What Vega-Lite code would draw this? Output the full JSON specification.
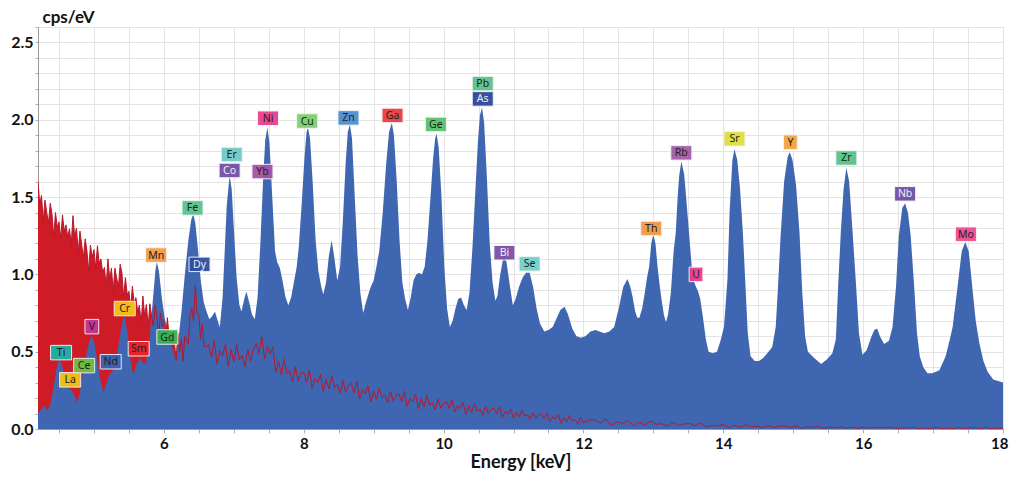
{
  "$schema": "https://vega.github.io/schema/vega-lite/v6.json",
  "width": 965,
  "height": 402,
  "autosize": {"type": "none"},
  "padding": {"left": 38, "top": 27, "right": 6, "bottom": 48},
  "background": "white",
  "config": {
    "view": {"stroke": "#a8a8a8", "strokeWidth": 1},
    "axis": {
      "labelFont": "Lato", "labelFontWeight": "bold", "labelFontSize": 16, "labelColor": "#111",
      "titleFont": "Lato", "titleFontWeight": "bold", "titleFontSize": 18, "titleColor": "#111",
      "gridColor": "#e4e4e4", "gridWidth": 1, "domainColor": "#9a9a9a", "tickColor": "#b0b0b0"
    }
  },
  "datasets": {
    "blue": [
      {"e":4.20,"c":0.10},{"e":4.25,"c":0.13},{"e":4.29,"c":0.155},{"e":4.33,"c":0.12},{"e":4.37,"c":0.15},{"e":4.42,"c":0.26},{"e":4.46,"c":0.38},{"e":4.50,"c":0.45},{"e":4.54,"c":0.42},{"e":4.58,"c":0.33},{"e":4.63,"c":0.27},{"e":4.68,"c":0.25},{"e":4.72,"c":0.22},{"e":4.76,"c":0.17},{"e":4.80,"c":0.24},{"e":4.85,"c":0.38},{"e":4.90,"c":0.50},{"e":4.94,"c":0.58},{"e":4.97,"c":0.60},{"e":5.01,"c":0.55},{"e":5.05,"c":0.43},{"e":5.10,"c":0.30},{"e":5.14,"c":0.24},{"e":5.18,"c":0.30},{"e":5.23,"c":0.36},{"e":5.28,"c":0.38},{"e":5.32,"c":0.45},{"e":5.37,"c":0.60},{"e":5.41,"c":0.70},{"e":5.44,"c":0.73},{"e":5.48,"c":0.62},{"e":5.52,"c":0.46},{"e":5.56,"c":0.35},{"e":5.61,"c":0.42},{"e":5.66,"c":0.46},{"e":5.70,"c":0.43},{"e":5.74,"c":0.42},{"e":5.79,"c":0.55},{"e":5.84,"c":0.82},{"e":5.88,"c":1.03},{"e":5.90,"c":1.08},{"e":5.93,"c":1.02},{"e":5.97,"c":0.85},{"e":6.01,"c":0.72},{"e":6.06,"c":0.62},{"e":6.10,"c":0.55},{"e":6.14,"c":0.50},{"e":6.16,"c":0.46},{"e":6.20,"c":0.55},{"e":6.25,"c":0.75},{"e":6.30,"c":1.00},{"e":6.35,"c":1.22},{"e":6.39,"c":1.35},{"e":6.42,"c":1.39},{"e":6.45,"c":1.33},{"e":6.49,"c":1.15},{"e":6.53,"c":0.95},{"e":6.57,"c":0.82},{"e":6.61,"c":0.76},{"e":6.65,"c":0.71},{"e":6.69,"c":0.73},{"e":6.73,"c":0.76},{"e":6.77,"c":0.70},{"e":6.80,"c":0.66},{"e":6.84,"c":0.85},{"e":6.87,"c":1.15},{"e":6.90,"c":1.45},{"e":6.94,"c":1.64},{"e":6.97,"c":1.55},{"e":7.00,"c":1.30},{"e":7.04,"c":0.98},{"e":7.08,"c":0.80},{"e":7.11,"c":0.76},{"e":7.15,"c":0.84},{"e":7.18,"c":0.89},{"e":7.22,"c":0.82},{"e":7.26,"c":0.74},{"e":7.30,"c":0.71},{"e":7.34,"c":0.85},{"e":7.38,"c":1.20},{"e":7.42,"c":1.62},{"e":7.45,"c":1.87},{"e":7.48,"c":1.95},{"e":7.51,"c":1.85},{"e":7.55,"c":1.50},{"e":7.59,"c":1.15},{"e":7.62,"c":1.08},{"e":7.66,"c":1.04},{"e":7.70,"c":0.95},{"e":7.74,"c":0.85},{"e":7.78,"c":0.80},{"e":7.82,"c":0.85},{"e":7.86,"c":0.95},{"e":7.90,"c":1.05},{"e":7.93,"c":1.18},{"e":7.97,"c":1.45},{"e":8.01,"c":1.75},{"e":8.04,"c":1.92},{"e":8.06,"c":1.95},{"e":8.09,"c":1.88},{"e":8.13,"c":1.58},{"e":8.17,"c":1.22},{"e":8.21,"c":1.02},{"e":8.25,"c":0.92},{"e":8.28,"c":0.87},{"e":8.32,"c":0.95},{"e":8.36,"c":1.12},{"e":8.40,"c":1.22},{"e":8.44,"c":1.10},{"e":8.48,"c":0.96},{"e":8.52,"c":1.05},{"e":8.56,"c":1.35},{"e":8.60,"c":1.72},{"e":8.63,"c":1.92},{"e":8.66,"c":1.97},{"e":8.69,"c":1.88},{"e":8.73,"c":1.50},{"e":8.77,"c":1.12},{"e":8.81,"c":0.88},{"e":8.85,"c":0.75},{"e":8.89,"c":0.82},{"e":8.93,"c":0.88},{"e":8.96,"c":0.92},{"e":9.00,"c":0.96},{"e":9.04,"c":1.05},{"e":9.08,"c":1.15},{"e":9.13,"c":1.40},{"e":9.18,"c":1.72},{"e":9.22,"c":1.92},{"e":9.26,"c":1.98},{"e":9.29,"c":1.90},{"e":9.33,"c":1.60},{"e":9.37,"c":1.22},{"e":9.41,"c":0.95},{"e":9.45,"c":0.84},{"e":9.49,"c":0.77},{"e":9.53,"c":0.85},{"e":9.57,"c":0.96},{"e":9.61,"c":1.00},{"e":9.65,"c":1.01},{"e":9.69,"c":1.00},{"e":9.73,"c":1.05},{"e":9.77,"c":1.22},{"e":9.81,"c":1.48},{"e":9.85,"c":1.75},{"e":9.88,"c":1.88},{"e":9.90,"c":1.91},{"e":9.93,"c":1.82},{"e":9.97,"c":1.50},{"e":10.01,"c":1.05},{"e":10.05,"c":0.78},{"e":10.09,"c":0.66},{"e":10.13,"c":0.70},{"e":10.17,"c":0.78},{"e":10.21,"c":0.84},{"e":10.25,"c":0.85},{"e":10.29,"c":0.80},{"e":10.33,"c":0.77},{"e":10.37,"c":0.88},{"e":10.41,"c":1.15},{"e":10.45,"c":1.50},{"e":10.49,"c":1.85},{"e":10.52,"c":2.03},{"e":10.55,"c":2.08},{"e":10.58,"c":1.98},{"e":10.62,"c":1.62},{"e":10.66,"c":1.20},{"e":10.70,"c":0.95},{"e":10.74,"c":0.83},{"e":10.77,"c":0.86},{"e":10.81,"c":1.00},{"e":10.85,"c":1.10},{"e":10.87,"c":1.12},{"e":10.90,"c":1.08},{"e":10.94,"c":0.95},{"e":10.99,"c":0.80},{"e":11.03,"c":0.84},{"e":11.08,"c":0.92},{"e":11.13,"c":0.98},{"e":11.18,"c":1.01},{"e":11.23,"c":1.01},{"e":11.28,"c":0.92},{"e":11.33,"c":0.78},{"e":11.38,"c":0.68},{"e":11.44,"c":0.63},{"e":11.50,"c":0.64},{"e":11.56,"c":0.66},{"e":11.62,"c":0.72},{"e":11.67,"c":0.77},{"e":11.73,"c":0.79},{"e":11.78,"c":0.74},{"e":11.84,"c":0.65},{"e":11.90,"c":0.60},{"e":11.96,"c":0.59},{"e":12.03,"c":0.60},{"e":12.10,"c":0.63},{"e":12.17,"c":0.64},{"e":12.23,"c":0.63},{"e":12.30,"c":0.62},{"e":12.37,"c":0.63},{"e":12.44,"c":0.66},{"e":12.51,"c":0.79},{"e":12.57,"c":0.92},{"e":12.63,"c":0.97},{"e":12.67,"c":0.92},{"e":12.70,"c":0.86},{"e":12.74,"c":0.76},{"e":12.77,"c":0.72},{"e":12.80,"c":0.72},{"e":12.84,"c":0.78},{"e":12.87,"c":0.86},{"e":12.91,"c":0.98},{"e":12.94,"c":1.05},{"e":12.97,"c":1.20},{"e":13.00,"c":1.26},{"e":13.03,"c":1.20},{"e":13.06,"c":1.05},{"e":13.09,"c":0.93},{"e":13.11,"c":0.86},{"e":13.15,"c":0.74},{"e":13.18,"c":0.69},{"e":13.21,"c":0.74},{"e":13.25,"c":0.88},{"e":13.29,"c":1.15},{"e":13.32,"c":1.27},{"e":13.35,"c":1.52},{"e":13.37,"c":1.64},{"e":13.40,"c":1.73},{"e":13.44,"c":1.65},{"e":13.47,"c":1.49},{"e":13.51,"c":1.27},{"e":13.56,"c":0.98},{"e":13.60,"c":0.93},{"e":13.64,"c":0.89},{"e":13.67,"c":0.84},{"e":13.71,"c":0.72},{"e":13.75,"c":0.58},{"e":13.79,"c":0.50},{"e":13.85,"c":0.49},{"e":13.91,"c":0.50},{"e":13.96,"c":0.57},{"e":14.01,"c":0.66},{"e":14.06,"c":0.97},{"e":14.09,"c":1.40},{"e":14.13,"c":1.74},{"e":14.16,"c":1.81},{"e":14.20,"c":1.74},{"e":14.24,"c":1.55},{"e":14.28,"c":1.27},{"e":14.32,"c":0.90},{"e":14.35,"c":0.62},{"e":14.39,"c":0.47},{"e":14.45,"c":0.44},{"e":14.51,"c":0.44},{"e":14.57,"c":0.46},{"e":14.63,"c":0.49},{"e":14.70,"c":0.53},{"e":14.75,"c":0.66},{"e":14.78,"c":0.90},{"e":14.82,"c":1.25},{"e":14.87,"c":1.60},{"e":14.92,"c":1.76},{"e":14.95,"c":1.79},{"e":14.99,"c":1.74},{"e":15.04,"c":1.58},{"e":15.09,"c":1.27},{"e":15.13,"c":0.88},{"e":15.17,"c":0.60},{"e":15.21,"c":0.50},{"e":15.30,"c":0.46},{"e":15.40,"c":0.42},{"e":15.48,"c":0.45},{"e":15.56,"c":0.49},{"e":15.61,"c":0.58},{"e":15.64,"c":0.90},{"e":15.68,"c":1.27},{"e":15.72,"c":1.55},{"e":15.76,"c":1.69},{"e":15.80,"c":1.60},{"e":15.85,"c":1.27},{"e":15.90,"c":0.92},{"e":15.94,"c":0.62},{"e":15.99,"c":0.48},{"e":16.05,"c":0.51},{"e":16.12,"c":0.60},{"e":16.16,"c":0.64},{"e":16.20,"c":0.65},{"e":16.24,"c":0.60},{"e":16.30,"c":0.55},{"e":16.37,"c":0.57},{"e":16.42,"c":0.66},{"e":16.47,"c":0.92},{"e":16.51,"c":1.25},{"e":16.56,"c":1.43},{"e":16.60,"c":1.46},{"e":16.64,"c":1.40},{"e":16.68,"c":1.25},{"e":16.73,"c":0.92},{"e":16.77,"c":0.62},{"e":16.81,"c":0.47},{"e":16.86,"c":0.40},{"e":16.92,"c":0.36},{"e":16.99,"c":0.36},{"e":17.09,"c":0.38},{"e":17.18,"c":0.47},{"e":17.24,"c":0.58},{"e":17.28,"c":0.66},{"e":17.35,"c":0.92},{"e":17.41,"c":1.15},{"e":17.46,"c":1.21},{"e":17.51,"c":1.15},{"e":17.56,"c":0.92},{"e":17.61,"c":0.70},{"e":17.66,"c":0.56},{"e":17.72,"c":0.44},{"e":17.78,"c":0.37},{"e":17.86,"c":0.32},{"e":17.93,"c":0.31},{"e":18.00,"c":0.30}
    ],
    "red": [
      {"e":4.200,"c":1.60},{"e":4.225,"c":1.455},{"e":4.250,"c":1.51},{"e":4.275,"c":1.345},{"e":4.300,"c":1.48},{"e":4.325,"c":1.40},{"e":4.350,"c":1.33},{"e":4.375,"c":1.46},{"e":4.400,"c":1.39},{"e":4.425,"c":1.245},{"e":4.450,"c":1.40},{"e":4.475,"c":1.305},{"e":4.500,"c":1.34},{"e":4.525,"c":1.23},{"e":4.550,"c":1.385},{"e":4.575,"c":1.28},{"e":4.600,"c":1.32},{"e":4.625,"c":1.24},{"e":4.650,"c":1.295},{"e":4.675,"c":1.19},{"e":4.700,"c":1.38},{"e":4.725,"c":1.24},{"e":4.750,"c":1.30},{"e":4.775,"c":1.14},{"e":4.800,"c":1.28},{"e":4.825,"c":1.19},{"e":4.850,"c":1.11},{"e":4.875,"c":1.23},{"e":4.900,"c":1.15},{"e":4.925,"c":1.02},{"e":4.950,"c":1.19},{"e":4.975,"c":1.11},{"e":5.000,"c":1.16},{"e":5.025,"c":1.04},{"e":5.050,"c":1.185},{"e":5.075,"c":1.07},{"e":5.100,"c":1.10},{"e":5.125,"c":1.01},{"e":5.150,"c":1.045},{"e":5.175,"c":0.92},{"e":5.200,"c":1.10},{"e":5.225,"c":0.97},{"e":5.250,"c":1.04},{"e":5.275,"c":0.89},{"e":5.300,"c":1.04},{"e":5.325,"c":0.975},{"e":5.350,"c":0.92},{"e":5.375,"c":1.065},{"e":5.400,"c":1.01},{"e":5.425,"c":0.85},{"e":5.450,"c":0.98},{"e":5.475,"c":0.87},{"e":5.500,"c":0.89},{"e":5.525,"c":0.78},{"e":5.550,"c":0.925},{"e":5.575,"c":0.81},{"e":5.600,"c":0.85},{"e":5.625,"c":0.76},{"e":5.650,"c":0.80},{"e":5.675,"c":0.68},{"e":5.700,"c":0.86},{"e":5.725,"c":0.73},{"e":5.750,"c":0.805},{"e":5.775,"c":0.66},{"e":5.800,"c":0.81},{"e":5.825,"c":0.73},{"e":5.850,"c":0.665},{"e":5.875,"c":0.80},{"e":5.900,"c":0.73},{"e":5.925,"c":0.59},{"e":5.950,"c":0.75},{"e":5.975,"c":0.66},{"e":6.000,"c":0.70},{"e":6.025,"c":0.58},{"e":6.050,"c":0.72},{"e":6.075,"c":0.60},{"e":6.100,"c":0.63},{"e":6.125,"c":0.535},{"e":6.150,"c":0.57},{"e":6.175,"c":0.445},{"e":6.200,"c":0.62},{"e":6.225,"c":0.50},{"e":6.250,"c":0.58},{"e":6.275,"c":0.44},{"e":6.300,"c":0.60},{"e":6.325,"c":0.57},{"e":6.350,"c":0.55},{"e":6.375,"c":0.74},{"e":6.400,"c":0.78},{"e":6.425,"c":0.70},{"e":6.450,"c":0.93},{"e":6.475,"c":0.75},{"e":6.500,"c":0.74},{"e":6.525,"c":0.58},{"e":6.550,"c":0.68},{"e":6.575,"c":0.53},{"e":6.600,"c":0.53},
      {"e":6.64,"c":0.545},{"e":6.68,"c":0.464},{"e":6.72,"c":0.573},{"e":6.76,"c":0.421},{"e":6.80,"c":0.506},{"e":6.84,"c":0.472},{"e":6.88,"c":0.548},{"e":6.92,"c":0.406},{"e":6.96,"c":0.513},{"e":7.00,"c":0.433},{"e":7.04,"c":0.545},{"e":7.08,"c":0.449},{"e":7.12,"c":0.476},{"e":7.16,"c":0.402},{"e":7.20,"c":0.514},{"e":7.24,"c":0.438},{"e":7.28,"c":0.515},{"e":7.32,"c":0.554},{"e":7.36,"c":0.489},{"e":7.40,"c":0.596},{"e":7.44,"c":0.452},{"e":7.48,"c":0.535},{"e":7.52,"c":0.488},{"e":7.56,"c":0.531},{"e":7.60,"c":0.365},{"e":7.64,"c":0.438},{"e":7.68,"c":0.351},{"e":7.72,"c":0.451},{"e":7.76,"c":0.357},{"e":7.80,"c":0.377},{"e":7.84,"c":0.306},{"e":7.88,"c":0.403},{"e":7.92,"c":0.311},{"e":7.96,"c":0.359},{"e":8.00,"c":0.366},{"e":8.04,"c":0.302},{"e":8.08,"c":0.382},{"e":8.12,"c":0.264},{"e":8.16,"c":0.326},{"e":8.20,"c":0.298},{"e":8.24,"c":0.354},{"e":8.28,"c":0.242},{"e":8.32,"c":0.322},{"e":8.36,"c":0.258},{"e":8.40,"c":0.344},{"e":8.44,"c":0.268},{"e":8.48,"c":0.288},{"e":8.52,"c":0.231},{"e":8.56,"c":0.314},{"e":8.60,"c":0.239},{"e":8.64,"c":0.283},{"e":8.68,"c":0.295},{"e":8.72,"c":0.233},{"e":8.76,"c":0.309},{"e":8.80,"c":0.195},{"e":8.84,"c":0.254},{"e":8.88,"c":0.227},{"e":8.92,"c":0.278},{"e":8.96,"c":0.174},{"e":9.00,"c":0.245},{"e":9.04,"c":0.192},{"e":9.08,"c":0.264},{"e":9.12,"c":0.202},{"e":9.16,"c":0.219},{"e":9.20,"c":0.171},{"e":9.24,"c":0.243},{"e":9.28,"c":0.180},{"e":9.32,"c":0.218},{"e":9.36,"c":0.230},{"e":9.40,"c":0.177},{"e":9.44,"c":0.244},{"e":9.48,"c":0.146},{"e":9.52,"c":0.198},{"e":9.56,"c":0.176},{"e":9.60,"c":0.223},{"e":9.64,"c":0.130},{"e":9.68,"c":0.197},{"e":9.72,"c":0.144},{"e":9.76,"c":0.217},{"e":9.80,"c":0.154},{"e":9.84,"c":0.171},{"e":9.88,"c":0.123},{"e":9.92,"c":0.195},{"e":9.96,"c":0.133},{"e":10.00,"c":0.167},{"e":10.04,"c":0.177},{"e":10.08,"c":0.134},{"e":10.12,"c":0.188},{"e":10.16,"c":0.110},{"e":10.20,"c":0.151},{"e":10.24,"c":0.133},{"e":10.28,"c":0.171},{"e":10.32,"c":0.096},{"e":10.36,"c":0.150},{"e":10.40,"c":0.108},{"e":10.44,"c":0.165},{"e":10.48,"c":0.115},{"e":10.52,"c":0.128},{"e":10.56,"c":0.090},{"e":10.60,"c":0.148},{"e":10.64,"c":0.098},{"e":10.68,"c":0.128},{"e":10.72,"c":0.135},{"e":10.76,"c":0.098},{"e":10.80,"c":0.145},{"e":10.84,"c":0.076},{"e":10.88,"c":0.113},{"e":10.92,"c":0.097},{"e":10.96,"c":0.130},{"e":11.00,"c":0.070},{"e":11.04,"c":0.110},{"e":11.08,"c":0.078},{"e":11.12,"c":0.121},{"e":11.16,"c":0.083},{"e":11.20,"c":0.093},{"e":11.24,"c":0.064},{"e":11.28,"c":0.107},{"e":11.32,"c":0.069},{"e":11.36,"c":0.091},{"e":11.40,"c":0.098},{"e":11.44,"c":0.066},{"e":11.48,"c":0.106},{"e":11.52,"c":0.047},{"e":11.56,"c":0.078},{"e":11.60,"c":0.065},{"e":11.64,"c":0.093},{"e":11.68,"c":0.037},{"e":11.72,"c":0.077},{"e":11.76,"c":0.045},{"e":11.80,"c":0.088},{"e":11.84,"c":0.050},{"e":11.88,"c":0.061},{"e":11.92,"c":0.033},{"e":11.96,"c":0.077},{"e":12.00,"c":0.040},
      {"e":12.08,"c":0.056},{"e":12.16,"c":0.061},{"e":12.24,"c":0.037},{"e":12.32,"c":0.066},{"e":12.40,"c":0.023},{"e":12.48,"c":0.046},{"e":12.56,"c":0.036},{"e":12.64,"c":0.056},{"e":12.72,"c":0.018},{"e":12.80,"c":0.046},{"e":12.88,"c":0.025},{"e":12.96,"c":0.052},{"e":13.04,"c":0.030},{"e":13.12,"c":0.035},{"e":13.20,"c":0.018},{"e":13.28,"c":0.042},{"e":13.36,"c":0.022},{"e":13.44,"c":0.033},{"e":13.52,"c":0.036},{"e":13.60,"c":0.020},{"e":13.68,"c":0.039},{"e":13.76,"c":0.011},{"e":13.84,"c":0.025},{"e":13.92,"c":0.019},{"e":14.00,"c":0.030},{"e":14.08,"c":0.007},{"e":14.16,"c":0.024},{"e":14.24,"c":0.011},{"e":14.32,"c":0.028},{"e":14.40,"c":0.014},{"e":14.48,"c":0.018},{"e":14.56,"c":0.008},{"e":14.64,"c":0.022},{"e":14.72,"c":0.010},{"e":14.80,"c":0.018},{"e":14.88,"c":0.019},{"e":14.96,"c":0.010},{"e":15.04,"c":0.021},{"e":15.12,"c":0.005},{"e":15.20,"c":0.014},{"e":15.28,"c":0.010},{"e":15.36,"c":0.017},{"e":15.44,"c":0.004},{"e":15.52,"c":0.013},{"e":15.60,"c":0.006},{"e":15.68,"c":0.014},{"e":15.76,"c":0.007},{"e":15.84,"c":0.010},{"e":15.92,"c":0.003},{"e":16.00,"c":0.012},{"e":16.08,"c":0.005},{"e":16.16,"c":0.010},{"e":16.24,"c":0.012},{"e":16.32,"c":0.006},{"e":16.40,"c":0.013},{"e":16.48,"c":0.002},{"e":16.56,"c":0.008},{"e":16.64,"c":0.006},{"e":16.72,"c":0.012},{"e":16.80,"c":0.000},{"e":16.88,"c":0.008},{"e":16.96,"c":0.002},{"e":17.04,"c":0.011},{"e":17.12,"c":0.004},{"e":17.20,"c":0.007},{"e":17.28,"c":0.001},{"e":17.36,"c":0.010},{"e":17.44,"c":0.003},{"e":17.52,"c":0.008},{"e":17.60,"c":0.009},{"e":17.68,"c":0.003},{"e":17.76,"c":0.011},{"e":17.84,"c":0.000},{"e":17.92,"c":0.006},{"e":18.00,"c":0.005}
    ],
    "labels": [
      {"el":"Ti","e":4.53,"c":0.494},{"el":"La","e":4.66,"c":0.318},{"el":"Ce","e":4.86,"c":0.41},{"el":"V","e":4.97,"c":0.662},{"el":"Nd","e":5.24,"c":0.435},{"el":"Cr","e":5.44,"c":0.779},{"el":"Sm","e":5.64,"c":0.519},{"el":"Mn","e":5.89,"c":1.125},{"el":"Gd","e":6.05,"c":0.595},{"el":"Fe","e":6.41,"c":1.43},{"el":"Dy","e":6.51,"c":1.065},{"el":"Er","e":6.97,"c":1.775},{"el":"Co","e":6.94,"c":1.672},{"el":"Ni","e":7.49,"c":2.01},{"el":"Yb","e":7.41,"c":1.665},{"el":"Cu","e":8.05,"c":1.992},{"el":"Zn","e":8.64,"c":2.012},{"el":"Ga","e":9.27,"c":2.028},{"el":"Ge","e":9.89,"c":1.97},{"el":"Pb","e":10.56,"c":2.234},{"el":"As","e":10.56,"c":2.135},{"el":"Bi","e":10.87,"c":1.14},{"el":"Se","e":11.23,"c":1.068},{"el":"Th","e":12.97,"c":1.297},{"el":"Rb","e":13.4,"c":1.786},{"el":"U","e":13.61,"c":1.0},{"el":"Sr","e":14.16,"c":1.877},{"el":"Y","e":14.96,"c":1.855},{"el":"Zr","e":15.76,"c":1.753},{"el":"Nb","e":16.6,"c":1.521},{"el":"Mo","e":17.47,"c":1.26}
    ]
  },
  "encoding": {
    "x": {
      "field": "e", "type": "quantitative",
      "scale": {"domain": [4.2, 18], "nice": false, "zero": false},
      "axis": {
        "title": "Energy [keV]",
        "values": [4.5,5,5.5,6,6.5,7,7.5,8,8.5,9,9.5,10,10.5,11,11.5,12,12.5,13,13.5,14,14.5,15,15.5,16,16.5,17,17.5,18],
        "labelExpr": "datum.value % 2 == 0 ? format(datum.value, 'd') : ''",
        "tickSize": 4, "labelPadding": 3, "titlePadding": 2, "labelFontSize": 15,
        "labelFlush": true, "labelFlushOffset": 5, "labelOverlap": false
      }
    },
    "y": {
      "field": "c", "type": "quantitative",
      "scale": {"domain": [0, 2.6], "nice": false},
      "axis": {
        "title": "cps/eV",
        "values": [0,0.1,0.2,0.3,0.4,0.5,0.6,0.7,0.8,0.9,1,1.1,1.2,1.3,1.4,1.5,1.6,1.7,1.8,1.9,2,2.1,2.2,2.3,2.4,2.5,2.6],
        "labelExpr": "abs(datum.value*2 - round(datum.value*2)) < 0.01 ? format(datum.value, '.1f') : ''",
        "tickSize": 3, "labelPadding": 2, "labelOverlap": false, "labelFlush": false,
        "titleAngle": 0, "titleAlign": "left", "titleBaseline": "alphabetic", "titleX": 4, "titleY": -5, "titleFontSize": 17
      }
    }
  },
  "layer": [
    {"data": {"name": "red"}, "mark": {"type": "area", "color": "#cf1b25", "clip": true}, "encoding": {}},
    {"data": {"name": "blue"}, "mark": {"type": "area", "color": "#3f66b0", "clip": true}, "encoding": {}},
    {"data": {"name": "red"}, "mark": {"type": "line", "color": "#b8172c", "strokeWidth": 1, "clip": true}, "encoding": {}},
    {
      "data": {"name": "labels"},
      "transform": [{"filter": "length(datum.el) == 2"}],
      "mark": {"type": "point", "filled": true, "shape": "M-1.45,-1L1.45,-1L1.45,1L-1.45,1Z", "size": 210, "opacity": 0.95, "stroke": "#f2f2f2", "strokeWidth": 1},
      "encoding": {
        "color": {"field": "el", "type": "nominal", "legend": null,
          "scale": {
            "domain": ["Ti","La","Ce","V","Nd","Cr","Sm","Mn","Gd","Fe","Dy","Er","Co","Ni","Yb","Cu","Zn","Ga","Ge","Pb","As","Bi","Se","Th","Rb","U","Sr","Y","Zr","Nb","Mo"],
            "range": ["#1db3a9","#f0c419","#72bf44","#c2379b","#3a64b8","#f5c518","#e8242c","#f59a45","#37b254","#55c38c","#2e4fa3","#6fcac3","#7150a6","#ea3f8c","#a752a9","#7bcf6b","#4a8fd1","#ec3d3d","#58c16a","#5cc18b","#2c479c","#7a4fa5","#70d1c8","#f39747","#a45ba6","#ee3c8e","#dcdf3d","#f5a23c","#59c18b","#6c4fa5","#ef4a8f"]
          }
        }
      }
    },
    {
      "data": {"name": "labels"},
      "transform": [{"filter": "length(datum.el) == 1"}],
      "mark": {"type": "point", "filled": true, "shape": "M-0.95,-1L0.95,-1L0.95,1L-0.95,1Z", "size": 210, "opacity": 0.95, "stroke": "#f2f2f2", "strokeWidth": 1},
      "encoding": {
        "color": {"field": "el", "type": "nominal", "legend": null,
          "scale": {
            "domain": ["Ti","La","Ce","V","Nd","Cr","Sm","Mn","Gd","Fe","Dy","Er","Co","Ni","Yb","Cu","Zn","Ga","Ge","Pb","As","Bi","Se","Th","Rb","U","Sr","Y","Zr","Nb","Mo"],
            "range": ["#1db3a9","#f0c419","#72bf44","#c2379b","#3a64b8","#f5c518","#e8242c","#f59a45","#37b254","#55c38c","#2e4fa3","#6fcac3","#7150a6","#ea3f8c","#a752a9","#7bcf6b","#4a8fd1","#ec3d3d","#58c16a","#5cc18b","#2c479c","#7a4fa5","#70d1c8","#f39747","#a45ba6","#ee3c8e","#dcdf3d","#f5a23c","#59c18b","#6c4fa5","#ef4a8f"]
          }
        }
      }
    },
    {
      "data": {"name": "labels"},
      "mark": {"type": "text", "font": "Noto Sans", "fontSize": 10.5, "baseline": "middle", "align": "center", "dy": 0.5},
      "encoding": {
        "text": {"field": "el"},
        "color": {"condition": {"test": "indexof(['Co','Dy','As','Nb','Bi'], datum.el) >= 0", "value": "#f0f0f0"}, "value": "#222222"}
      }
    }
  ]
}
